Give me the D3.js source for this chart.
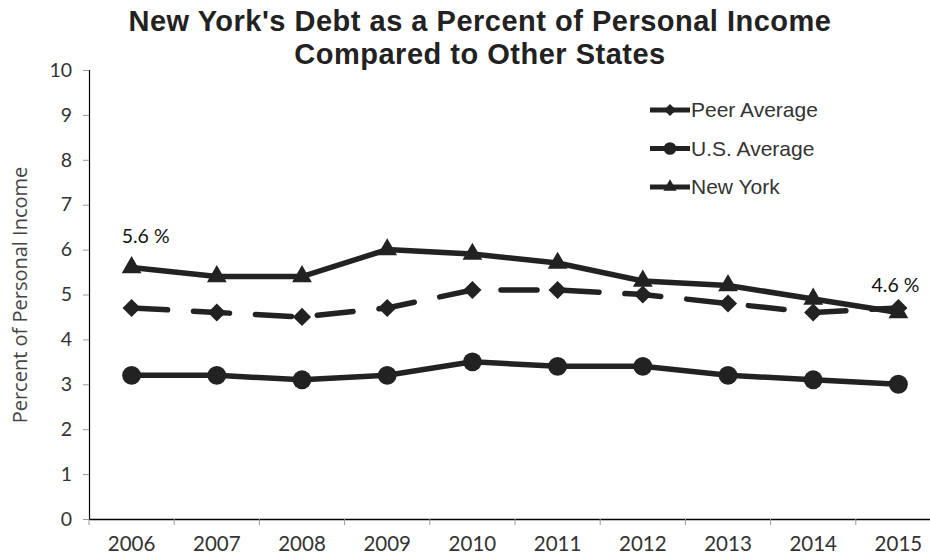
<!DOCTYPE html>
<html>
<head>
<meta charset="utf-8">
<script src="https://cdn.jsdelivr.net/npm/d3@7"></script>
<style>
  body { margin: 0; background: #fff; }
  svg { display: block; }
</style>
</head>
<body>
<div id="chart"></div>
<script>
// chart data
var years = ['2006','2007','2008','2009','2010','2011','2012','2013','2014','2015'];
var peerAverage = [4.7, 4.6, 4.5, 4.7, 5.1, 5.1, 5.0, 4.8, 4.6, 4.7];
var usAverage = [3.2, 3.2, 3.1, 3.2, 3.5, 3.4, 3.4, 3.2, 3.1, 3.0];
var newYork = [5.6, 5.4, 5.4, 6.0, 5.9, 5.7, 5.3, 5.2, 4.9, 4.6];
var yTicks = [0,1,2,3,4,5,6,7,8,9,10];

var svgWidth = 930;
var svgHeight = 555;

var margin = { top: 70, left: 89, bottom: 36, right: -11 };
var chartWidth = svgWidth - margin.left - margin.right;
var chartHeight = svgHeight - margin.top - margin.bottom;

var svg = d3.select('#chart').append('svg')
    .attr('width', svgWidth).attr('height', svgHeight);

var chartGroup = svg.append('g')
    .attr('transform', `translate(${margin.left},${margin.top})`);

var xScale = d3.scaleBand().domain(years).range([0, chartWidth]);
var yScale = d3.scaleLinear().domain([0, 10]).range([chartHeight, 0]);
var xMid = d => xScale(d) + xScale.bandwidth() / 2;

var ink = '#222';
var tickFont = 'Lato, "Open Sans", sans-serif';

// y axis
var yAxis = chartGroup.append('g')
    .call(d3.axisLeft(yScale).tickValues(yTicks).tickSize(6).tickPadding(11).tickFormat(d3.format('d')));
yAxis.select('.domain').attr('stroke', '#000').attr('stroke-width', 1.2);
yAxis.selectAll('.tick line').attr('stroke', '#999');
yAxis.selectAll('.tick text').attr('font-size', 19.5).attr('font-family', tickFont).attr('fill', '#333');

// x axis with ticks at band edges
var xAxis = chartGroup.append('g')
    .attr('transform', `translate(0,${chartHeight})`)
    .call(d3.axisBottom(xScale).tickSize(0).tickPadding(17));
xAxis.select('.domain').attr('stroke', '#000').attr('stroke-width', 1.5);
xAxis.selectAll('.tick text').attr('font-size', 20.5).attr('font-family', tickFont).attr('fill', '#333');
chartGroup.append('g').selectAll('line')
    .data(years)
    .enter()
    .append('line')
    .attr('x1', d => xScale(d)).attr('x2', d => xScale(d))
    .attr('y1', chartHeight).attr('y2', chartHeight + 6)
    .attr('stroke', '#999');

// y axis title
svg.append('text')
    .attr('transform', 'translate(27,295) rotate(-90)')
    .attr('text-anchor', 'middle')
    .attr('font-family', '"Open Sans", sans-serif')
    .attr('font-size', 20)
    .attr('fill', '#444')
    .text('Percent of Personal Income');

// title, two lines
svg.selectAll('.title')
    .data(["New York's Debt as a Percent of Personal Income", 'Compared to Other States'])
    .enter()
    .append('text')
    .attr('class', 'title')
    .attr('x', 480)
    .attr('y', (d, i) => 31 + i * 32.5)
    .attr('text-anchor', 'middle')
    .attr('font-family', '"Liberation Sans", Arial, sans-serif')
    .attr('font-weight', 'bold')
    .attr('font-size', 29)
    .attr('letter-spacing', 0.5)
    .attr('fill', '#222')
    .text(d => d);

var diamond = {
    draw: function(context, size) {
        var r = Math.sqrt(size / 2);
        context.moveTo(0, -r);
        context.lineTo(r, 0);
        context.lineTo(0, r);
        context.lineTo(-r, 0);
        context.closePath();
    }
};

var series = [
    { name: 'Peer Average', values: peerAverage, symbol: diamond, size: 165, dash: '36,26' },
    { name: 'U.S. Average', values: usAverage, symbol: d3.symbolCircle, size: 280, dash: null },
    { name: 'New York', values: newYork, symbol: d3.symbolTriangle, size: 170, dash: null }
];

var line = d3.line()
    .x((d, i) => xMid(years[i]))
    .y(d => yScale(d));

series.forEach(s => {
    chartGroup.append('path')
        .datum(s.values)
        .attr('d', line)
        .attr('fill', 'none')
        .attr('stroke', ink)
        .attr('stroke-width', 5.5)
        .attr('stroke-dasharray', s.dash)
        .attr('stroke-linecap', s.dash ? 'round' : 'butt');

    chartGroup.selectAll(null)
        .data(s.values)
        .enter()
        .append('path')
        .attr('d', d3.symbol().type(s.symbol).size(s.size))
        .attr('transform', (d, i) => `translate(${xMid(years[i])},${yScale(d)})`)
        .attr('fill', ink);
});

// value labels on first and last New York points
chartGroup.append('text')
    .attr('x', xMid(years[0]) + 14)
    .attr('y', yScale(newYork[0]) - 25)
    .attr('text-anchor', 'middle')
    .attr('font-family', tickFont)
    .attr('font-size', 19.5)
    .attr('fill', '#111')
    .text(newYork[0].toFixed(1) + ' %');
chartGroup.append('text')
    .attr('x', xMid(years[9]) - 3)
    .attr('y', yScale(newYork[9]) - 20)
    .attr('text-anchor', 'middle')
    .attr('font-family', tickFont)
    .attr('font-size', 19.5)
    .attr('fill', '#111')
    .text(newYork[9].toFixed(1) + ' %');

// legend
var legend = svg.append('g').attr('transform', 'translate(650,110)');
series.forEach((s, i) => {
    var row = legend.append('g').attr('transform', `translate(0,${i * 38.5})`);
    row.append('line')
        .attr('x1', 0).attr('x2', 40)
        .attr('stroke', ink).attr('stroke-width', 5);
    row.append('path')
        .attr('d', d3.symbol().type(s.symbol).size(s.size * 0.45))
        .attr('transform', 'translate(20,0)')
        .attr('fill', ink);
    row.append('text')
        .attr('x', 41).attr('y', 7)
        .attr('font-family', '"Liberation Sans", Arial, sans-serif')
        .attr('font-size', 21)
        .attr('fill', '#333')
        .text(s.name);
});
</script>
</body>
</html>
